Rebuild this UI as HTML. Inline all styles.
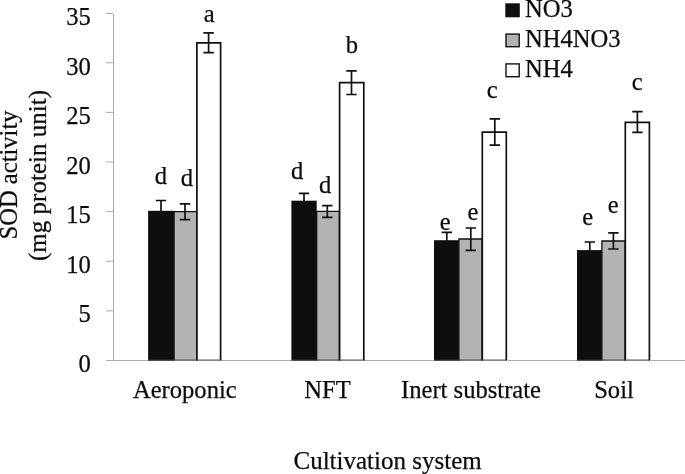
<!DOCTYPE html>
<html lang="en">
<head>
<meta charset="utf-8">
<title>SOD activity</title>
<style>
html,body{margin:0;padding:0;background:#fff;}
body{width:685px;height:474px;overflow:hidden;}
svg{display:block;}
text{font-family:"Liberation Serif",serif;font-size:24.6px;fill:#0c0c0c;stroke:#0c0c0c;stroke-width:0.25px;}
.ax{stroke:#ababab;stroke-width:1;fill:none;shape-rendering:crispEdges;}
.eb{stroke:#111;stroke-width:1.7;fill:none;}
</style>
</head>
<body>
<svg width="685" height="474" viewBox="0 0 685 474">
<rect x="0" y="0" width="685" height="474" fill="#ffffff"/>

<path class="ax" d="M113.5 13.5V360.5"/>
<path class="ax" style="shape-rendering:auto" d="M106 360.50H113"/>
<text x="90.9" y="371.8" text-anchor="end">0</text>
<path class="ax" style="shape-rendering:auto" d="M106 310.87H113"/>
<text x="90.9" y="322.3" text-anchor="end">5</text>
<path class="ax" style="shape-rendering:auto" d="M106 261.24H113"/>
<text x="90.9" y="272.8" text-anchor="end">10</text>
<path class="ax" style="shape-rendering:auto" d="M106 211.61H113"/>
<text x="90.9" y="223.3" text-anchor="end">15</text>
<path class="ax" style="shape-rendering:auto" d="M106 161.99H113"/>
<text x="90.9" y="173.8" text-anchor="end">20</text>
<path class="ax" style="shape-rendering:auto" d="M106 112.36H113"/>
<text x="90.9" y="124.3" text-anchor="end">25</text>
<path class="ax" style="shape-rendering:auto" d="M106 62.73H113"/>
<text x="90.9" y="74.8" text-anchor="end">30</text>
<path class="ax" style="shape-rendering:auto" d="M106 13.50H113"/>
<text x="90.9" y="25.3" text-anchor="end">35</text>
<rect x="148.1" y="210.8" width="26.0" height="149.8" fill="#0e0e0e"/>
<path d="M174.1 360.5V211.6H196.7V360.5" fill="#b3b3b3" stroke="#111" stroke-width="1.3"/>
<path d="M196.9 360.5V42.9H220.6V360.5" fill="#fff" stroke="#111" stroke-width="1.7"/>
<path d="M148.1 360.1H221.4" stroke="#3a3a3a" stroke-width="1" fill="none"/>
<rect x="291.4" y="200.7" width="25.3" height="159.9" fill="#0e0e0e"/>
<path d="M316.7 360.5V211.4H339.4V360.5" fill="#b3b3b3" stroke="#111" stroke-width="1.3"/>
<path d="M339.6 360.5V82.6H363.8V360.5" fill="#fff" stroke="#111" stroke-width="1.7"/>
<path d="M291.4 360.1H364.7" stroke="#3a3a3a" stroke-width="1" fill="none"/>
<rect x="434.0" y="240.2" width="24.9" height="120.4" fill="#0e0e0e"/>
<path d="M458.9 360.5V239.0H482.1V360.5" fill="#b3b3b3" stroke="#111" stroke-width="1.3"/>
<path d="M482.3 360.5V132.2H506.3V360.5" fill="#fff" stroke="#111" stroke-width="1.7"/>
<path d="M434.0 360.1H507.2" stroke="#3a3a3a" stroke-width="1" fill="none"/>
<rect x="577.0" y="250.1" width="24.9" height="110.5" fill="#0e0e0e"/>
<path d="M601.9 360.5V241.0H625.1V360.5" fill="#b3b3b3" stroke="#111" stroke-width="1.3"/>
<path d="M625.3 360.5V122.3H649.4V360.5" fill="#fff" stroke="#111" stroke-width="1.7"/>
<path d="M577.0 360.1H650.2" stroke="#3a3a3a" stroke-width="1" fill="none"/>
<path class="ax" d="M106 360.5H148 M221.5 360.5H291 M364.5 360.5H434 M507.5 360.5H577 M650.5 360.5H685"/>
<path class="eb" d="M155.8 200.5H166.2 M161.0 200.5V215.0"/>
<path class="eb" d="M179.8 203.9H190.2 M179.8 219.7H190.2 M185.0 203.9V219.7"/>
<path class="eb" d="M203.4 32.9H213.8 M203.4 52.6H213.8 M208.6 32.9V52.6"/>
<path class="eb" d="M298.8 193.4H309.2 M304.0 193.4V205.0"/>
<path class="eb" d="M322.1 205.7H332.5 M322.1 217.4H332.5 M327.3 205.7V217.4"/>
<path class="eb" d="M346.3 70.8H356.7 M346.3 94.5H356.7 M351.5 70.8V94.5"/>
<path class="eb" d="M441.6 232.4H452.0 M446.8 232.4V245.0"/>
<path class="eb" d="M465.6 228.0H476.0 M465.6 250.3H476.0 M470.8 228.0V250.3"/>
<path class="eb" d="M489.6 118.9H500.0 M489.6 145.2H500.0 M494.8 118.9V145.2"/>
<path class="eb" d="M584.6 242.0H595.0 M589.8 242.0V255.0"/>
<path class="eb" d="M608.2 232.9H618.6 M608.2 249.0H618.6 M613.4 232.9V249.0"/>
<path class="eb" d="M632.2 111.7H642.6 M632.2 132.4H642.6 M637.4 111.7V132.4"/>
<text x="160.9" y="183.6" text-anchor="middle">d</text>
<text x="187.0" y="186.2" text-anchor="middle">d</text>
<text x="209.2" y="21.9" text-anchor="middle">a</text>
<text x="297.1" y="178.8" text-anchor="middle">d</text>
<text x="325.1" y="192.6" text-anchor="middle">d</text>
<text x="352.0" y="52.6" text-anchor="middle">b</text>
<text x="445.3" y="229.9" text-anchor="middle">e</text>
<text x="473.0" y="220.2" text-anchor="middle">e</text>
<text x="492.2" y="98.1" text-anchor="middle">c</text>
<text x="587.8" y="225.3" text-anchor="middle">e</text>
<text x="613.2" y="212.8" text-anchor="middle">e</text>
<text x="637.2" y="89.8" text-anchor="middle">c</text>
<text x="184.8" y="397.7" text-anchor="middle">Aeroponic</text>
<text x="327.5" y="397.7" text-anchor="middle">NFT</text>
<text x="471.0" y="397.7" text-anchor="middle">Inert substrate</text>
<text x="614.0" y="397.7" text-anchor="middle">Soil</text>
<text x="387.6" y="469.3" text-anchor="middle" style="font-size:25px">Cultivation system</text>
<text transform="translate(17.3 175) rotate(-90)" text-anchor="middle">SOD activity</text>
<text transform="translate(45.9 175.5) rotate(-90)" text-anchor="middle" style="font-size:25.05px">(mg protein unit)</text>
<rect x="505.3" y="3.3" width="14.5" height="14" fill="#0e0e0e"/>
<rect x="506" y="34.1" width="13.2" height="12.6" fill="#b3b3b3" stroke="#111" stroke-width="1.4"/>
<rect x="506" y="63.9" width="13.2" height="12.8" fill="#fff" stroke="#111" stroke-width="1.4"/>
<text x="524.9" y="16.7">NO3</text>
<text x="524.9" y="46.8">NH4NO3</text>
<text x="524.9" y="76.8">NH4</text>
</svg>
</body>
</html>
